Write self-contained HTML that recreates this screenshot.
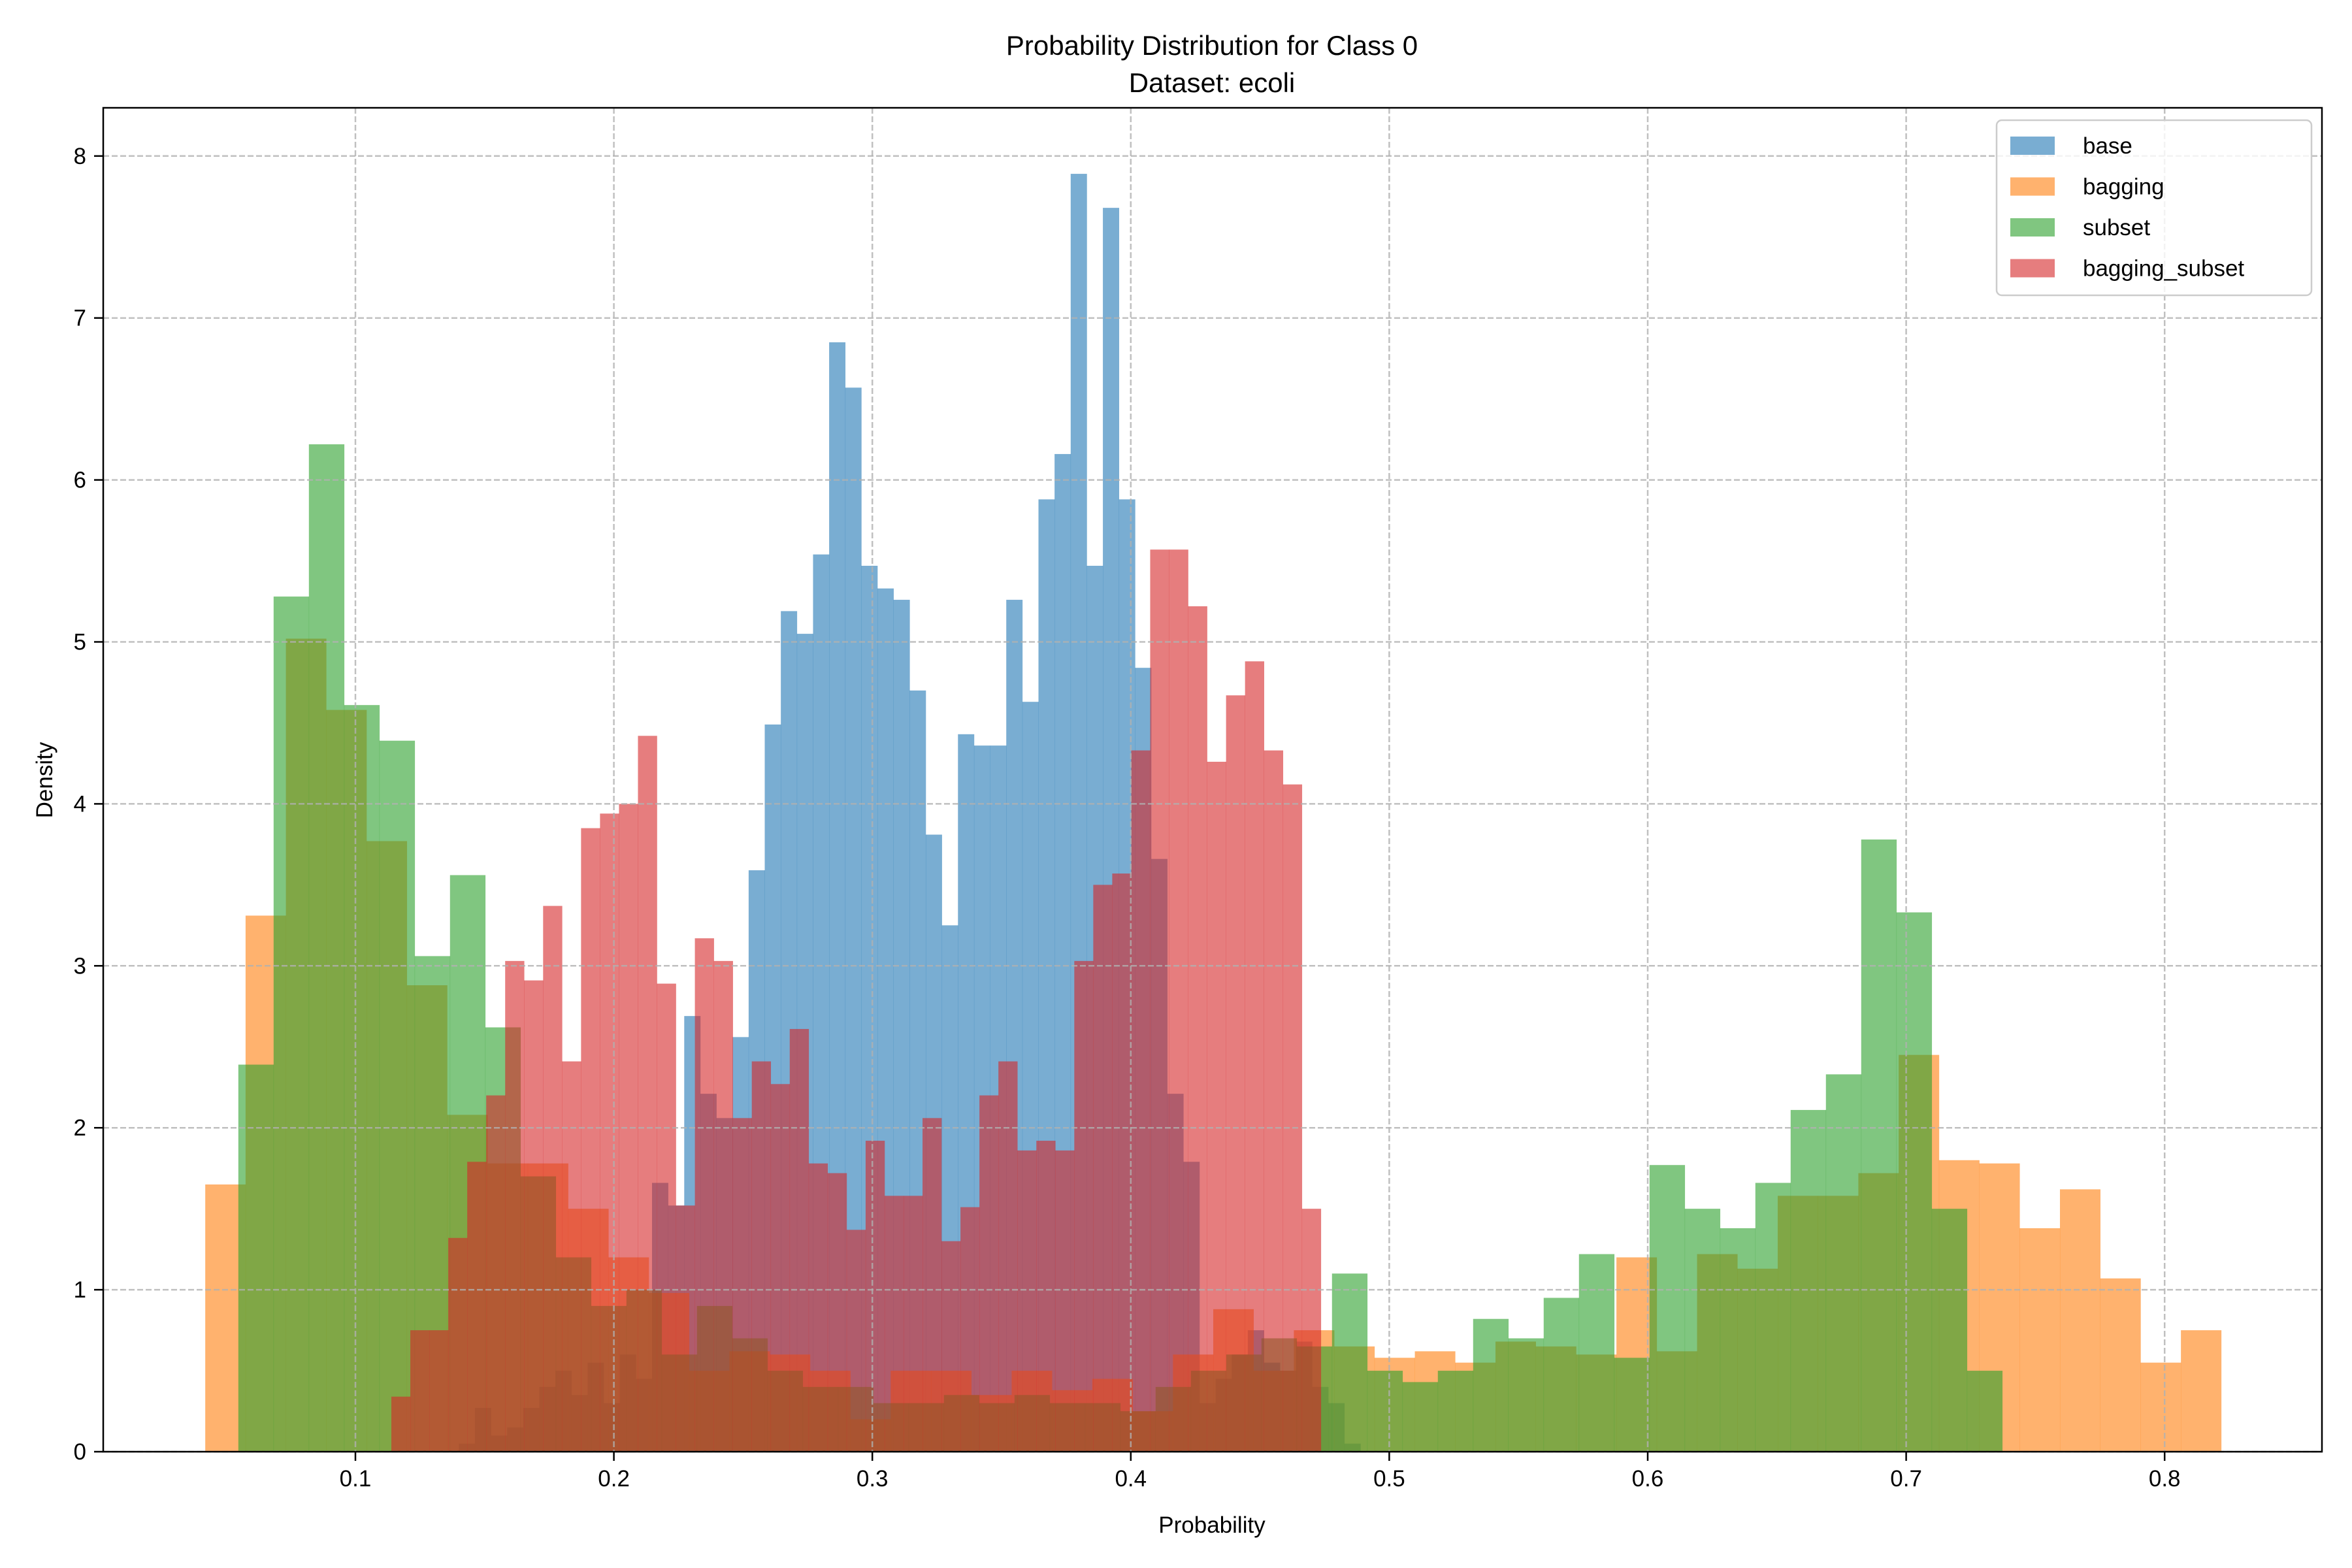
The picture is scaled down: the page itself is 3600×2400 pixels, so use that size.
<!DOCTYPE html>
<html><head><meta charset="utf-8"><style>
html,body{margin:0;padding:0;background:#fff;}
svg{display:block;font-family:"Liberation Sans",sans-serif;}
</style></head><body>
<svg id="chart" width="3600" height="2400" viewBox="0 0 3600 2400" xmlns="http://www.w3.org/2000/svg">
<rect width="3600" height="2400" fill="#fff"/>
<g id="bars"></g>
<g id="grid"></g>
<g id="axes"></g>
<text x="1855" y="84" font-size="42" text-anchor="middle">Probability Distribution for Class 0</text>
<text x="1855" y="141" font-size="42" text-anchor="middle">Dataset: ecoli</text>
<text x="1855" y="2346" font-size="35" text-anchor="middle">Probability</text>
<text x="80" y="1194" font-size="35" text-anchor="middle" transform="rotate(-90 80 1194)">Density</text>
<g id="legend"></g>
</svg>
<script>
const seriesNames = ["base","bagging","subset","bagging_subset"];
const seriesColors = ["#1f77b4","#ff7f0e","#2ca02c","#d62728"];
const baseStart = 0.1400, baseWidth = 0.00623;
const baseValues = [0.05,0.27,0.1,0.15,0.27,0.4,0.5,0.35,0.55,0.3,0.6,0.45,1.66,1.52,2.69,2.21,2.06,
2.56,3.59,4.49,5.19,5.05,5.54,6.85,6.57,5.47,5.33,5.26,4.70,3.81,3.25,4.43,4.36,4.36,5.26,4.63,5.88,6.16,7.89,5.47,7.68,5.88,4.84,
3.66,2.21,1.79,0.3,0.45,0.6,0.75,0.55,0.5,0.68,0.4,0.3,0.05];
const baggingStart = 0.0419, baggingWidth = 0.0156;
const baggingValues = [1.65,3.31,5.02,4.58,3.77,2.88,2.08,1.78,1.78,1.5,1.2,0.98,0.5,0.62,0.6,0.5,0.2,0.5,0.5,0.35,0.5,0.38,0.45,0.25,0.6,0.88,0.5,0.75,0.65,0.58,0.62,0.55,0.68,0.65,0.6,1.2,0.62,1.22,1.13,1.58,1.58,1.72,2.45,1.8,1.78,1.38,1.62,1.07,0.55,0.75];
const subsetStart = 0.0547, subsetWidth = 0.01365;
const subsetValues = [2.39,5.28,6.22,4.61,4.39,3.06,3.56,2.62,1.7,1.2,0.9,1.0,0.6,0.9,0.7,0.5,0.4,0.4,0.3,0.3,0.35,0.3,0.35,0.3,0.3,0.25,0.4,0.5,0.6,0.7,0.65,1.1,0.5,0.43,0.5,0.82,0.7,0.95,1.22,0.58,1.77,1.5,1.38,1.66,2.11,2.33,3.78,3.33,1.5,0.5];
const bsStart = 0.1139, bsWidth = 0.00734;
const bsValues = [0.34,0.75,0.75,1.32,1.79,2.2,3.03,2.91,3.37,2.41,3.85,3.94,4.0,4.42,2.89,1.52,3.17,3.03,2.06,2.41,2.27,2.61,1.78,1.72,1.37,1.92,1.58,1.58,2.06,1.30,1.51,2.2,2.41,1.86,1.92,1.86,3.03,3.5,3.57,4.33,5.57,5.57,5.22,4.26,4.67,4.88,4.33,4.12,1.5];
const xTicks = [0.1,0.2,0.3,0.4,0.5,0.6,0.7,0.8];
const xTickLabels = ["0.1","0.2","0.3","0.4","0.5","0.6","0.7","0.8"];
const yTicks = [0,1,2,3,4,5,6,7,8];
const yTickLabels = ["0","1","2","3","4","5","6","7","8"];

const NS = "http://www.w3.org/2000/svg";
const L = 158, R = 3554, T = 165, B = 2222;
function xs(v){ return 544 + (v - 0.1) * 3956; }
function ys(v){ return B - v * 247.9; }
function mk(tag, attrs, parent){
  const e = document.createElementNS(NS, tag);
  for (const k in attrs) e.setAttribute(k, attrs[k]);
  parent.appendChild(e); return e;
}
const bars = document.getElementById("bars");
const allSeries = [[baseStart,baseWidth,baseValues],[baggingStart,baggingWidth,baggingValues],[subsetStart,subsetWidth,subsetValues],[bsStart,bsWidth,bsValues]];
allSeries.forEach((s, si) => {
  const g = mk("g", {}, bars);
  
  
  s[2].forEach((v, i) => {
    const x0 = xs(s[0] + i * s[1]), x1 = xs(s[0] + (i + 1) * s[1]);
    const r = mk("rect", {x: x0, y: ys(v), width: x1 - x0 + 0.3, height: B - ys(v), fill: seriesColors[si], "fill-opacity": 0.6}, g);
    
    
  });
});
const grid = document.getElementById("grid");
xTicks.forEach((t) => {
  const l = mk("line", {x1: xs(t), x2: xs(t), y1: T, y2: B, stroke: "#b0b0b0", "stroke-width": 2.5, "stroke-dasharray": "9,4", "stroke-opacity": 0.8}, grid);
  
  
});
yTicks.forEach((t) => {
  const l = mk("line", {x1: L, x2: R, y1: ys(t), y2: ys(t), stroke: "#b0b0b0", "stroke-width": 2.5, "stroke-dasharray": "9,4", "stroke-opacity": 0.8}, grid);
  
  
});
const axes = document.getElementById("axes");
const frame = mk("rect", {x: L, y: T, width: R - L, height: B - T, fill: "none", stroke: "#000", "stroke-width": 2.5}, axes);


xTicks.forEach((t, i) => {
  const tk = mk("line", {x1: xs(t), x2: xs(t), y1: B, y2: B + 14, stroke: "#000", "stroke-width": 2.5}, axes);
  
  
  const tx = mk("text", {x: xs(t), y: B + 53, "font-size": 35, "text-anchor": "middle"}, axes);
  tx.textContent = xTickLabels[i];
  
  
});
yTicks.forEach((t, i) => {
  const tk = mk("line", {x1: L - 14, x2: L, y1: ys(t), y2: ys(t), stroke: "#000", "stroke-width": 2.5}, axes);
  
  
  const tx = mk("text", {x: L - 26, y: ys(t) + 12, "font-size": 35, "text-anchor": "end"}, axes);
  tx.textContent = yTickLabels[i];
  
  
});
const lg = document.getElementById("legend");
const box = mk("rect", {x: 3056, y: 184, width: 482, height: 268, rx: 8, fill: "#fff", "fill-opacity": 0.8, stroke: "#ccc", "stroke-width": 2.5}, lg);


seriesNames.forEach((n, i) => {
  const y = 223 + i * 62.5;
  const e = mk("g", {}, lg);
  
  
  mk("rect", {x: 3077, y: y - 14, width: 68, height: 28, fill: seriesColors[i], "fill-opacity": 0.6}, e);
  const t = mk("text", {x: 3188, y: y + 12, "font-size": 35}, e);
  t.textContent = n;
});
</script>
</body></html>
